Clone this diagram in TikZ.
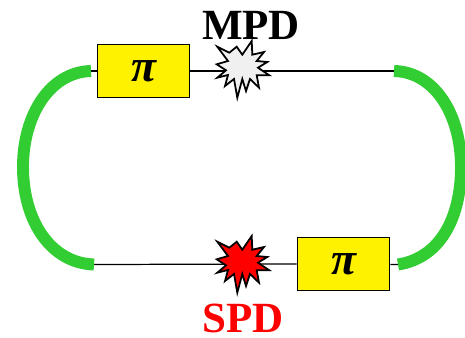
\documentclass[tikz,border=0pt]{standalone}
\usepackage{fontspec}
\setmainfont{Liberation Serif}
\usepackage{tikz}
\definecolor{arcgreen}{RGB}{50,205,50}
\definecolor{paleburst}{RGB}{240,240,240}
\tikzstyle{pibox} = [draw,fill=yellow,line width=1pt,minimum width=1.84cm,minimum height=1.06cm,inner sep=0pt,font=\fontsize{26}{26}\selectfont\bfseries\itshape]
\tikzstyle{burst} = [draw,line width=1pt,miter limit=6]
\tikzstyle{wire} = [line width=0.7pt]
\tikzstyle{arc} = [arcgreen,line width=6.8pt]
\tikzstyle{tag} = [font=\fontsize{24.5}{24.5}\selectfont\bfseries,inner sep=0pt]
\newcommand{\burstat}[2]{
 \draw[burst,fill=#2,shift={(#1)}] (-25.7,-22.3) -- (-13.7,-16.3) -- (-6.3,-22.3) -- (-0.7,-14.3)
  -- (8.7,-28) -- (9.3,-14.3) -- (21,-17) -- (13.7,-8) -- (24.3,-7) -- (15,-1.3)
  -- (26.3,6.3) -- (13.7,6.3) -- (16,18.7) -- (7,10) -- (3,22) -- (-0.7,10)
  -- (-5.7,28.7) -- (-9,10) -- (-18,17) -- (-15,6) -- (-25.7,8.7) -- (-17,1.3)
  -- (-26.3,-4.7) -- (-15,-8) -- cycle;
}

\begin{document}
\begin{tikzpicture}[x=0.02cm,y=-0.02cm]
\useasboundingbox (0,0) rectangle (465,337);

\coordinate (lefttop) at (91,71);
\coordinate (leftbot) at (94,264.5);
\coordinate (righttop) at (394,71);
\coordinate (rightbot) at (398,264.5);
\coordinate (mpd) at (243,69);
\coordinate (spd) at (243,264);

\node[pibox] (pitop) at (143.5,71) {π};
\node[pibox] (pibot) at (343.5,264) {π};
\node[tag] (mpdtag) at (251,25) {MPD};
\node[tag,red] (spdtag) at (243,318.5) {SPD};

\draw[wire] (lefttop) -- (pitop);
\draw[wire] (pitop.east) -- (righttop);
\draw[wire] (leftbot) -- (pibot.west);
\draw[wire] (pibot) -- (rightbot);

\burstat{mpd}{paleburst}
\burstat{spd}{red}

\draw[arc] (lefttop) .. controls (50,72) and (23,115) .. (23,167) .. controls (23,220) and (50,263) .. (leftbot);
\draw[arc] (righttop) .. controls (435,72) and (461,115) .. (461,167) .. controls (461,218) and (440,258) .. (rightbot);

\end{tikzpicture}
\end{document}
